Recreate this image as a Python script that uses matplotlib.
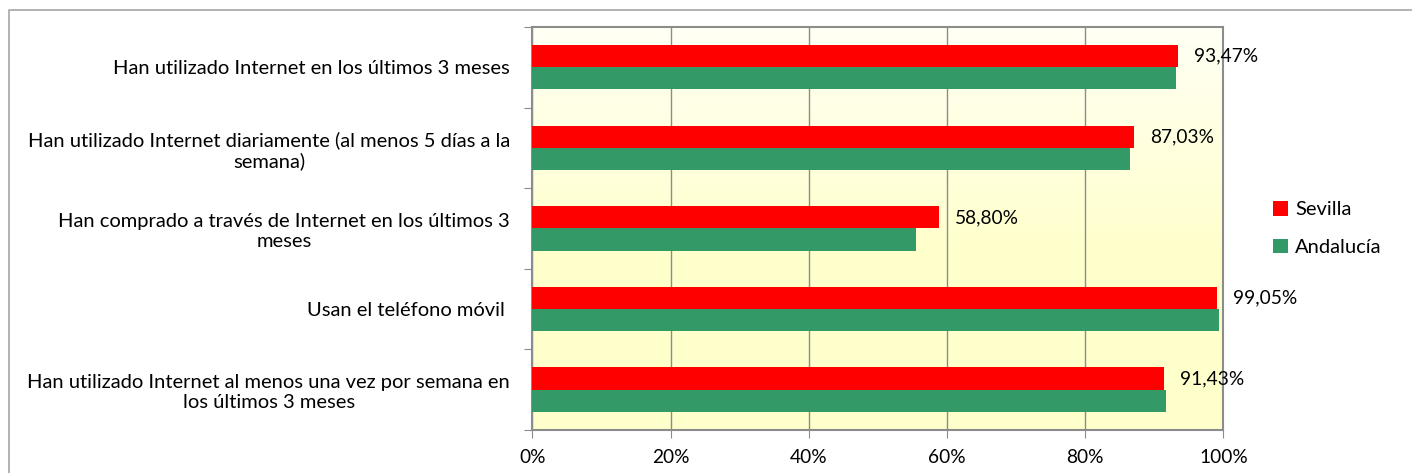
import numpy as np
import matplotlib.pyplot as plt
from matplotlib.lines import Line2D

plt.rcParams['font.family'] = ['Lato', 'DejaVu Sans']

categorias = [
    "Han utilizado Internet en los últimos 3 meses",
    "Han utilizado Internet diariamente (al menos 5 días a la\nsemana)",
    "Han comprado a través de Internet en los últimos 3\nmeses",
    "Usan el teléfono móvil ",
    "Han utilizado Internet al menos una vez por semana en\nlos últimos 3 meses",
]
sevilla = [93.47, 87.03, 58.80, 99.05, 91.43]
andalucia = [93.1, 86.5, 55.5, 99.3, 91.7]
etiquetas = ["93,47%", "87,03%", "58,80%", "99,05%", "91,43%"]
xticks = [0, 20, 40, 60, 80, 100]
xlabels = ["0%", "20%", "40%", "60%", "80%", "100%"]

rojo = '#ff0000'
verde = '#339966'
gris = '#8c8c8c'

fig = plt.figure(figsize=(14.12, 4.73), dpi=100)
ax = fig.add_axes([0.377, 0.091, 0.4895, 0.852])

# marco exterior del grafico (solo se ven el borde superior e izquierdo)
fig.lines.append(Line2D([0.0065, 0.0065, 1.0], [0.0, 0.978, 0.978], transform=fig.transFigure,
                        color='#a6a6a6', lw=1.2))

# fondo degradado
grad = np.linspace(0, 1, 200).reshape(-1, 1)
grad = np.clip(grad * 1.8, 0, 1)
c_top = np.array([1.0, 1.0, 0.96])
c_bot = np.array([1.0, 1.0, 0.80])
img = c_top + (c_bot - c_top) * grad[:, :, None]
ax.imshow(img, extent=[0, 1, 0, 1], transform=ax.transAxes, aspect='auto', zorder=0)

y = np.arange(len(categorias))
h = 0.275
ax.barh(y - h / 2, sevilla, height=h, color=rojo, label='Sevilla', zorder=3)
ax.barh(y + h / 2, andalucia, height=h, color=verde, label='Andalucía', zorder=3)

for i in range(len(sevilla)):
    ax.text(sevilla[i] + 2.3, y[i] - h / 2, etiquetas[i], va='center', ha='left',
            fontsize=13.8, color='black', zorder=4)

ax.set_xlim(0, 100)
ax.set_ylim(len(categorias) - 0.5, -0.5)
ax.set_xticks(xticks)
ax.set_xticklabels(xlabels, fontsize=13.8)
ax.set_yticks(np.arange(-0.5, len(categorias), 1))
ax.set_yticklabels([])
ax.set_yticks(y, minor=True)
ax.set_yticklabels(categorias, minor=True, fontsize=14.5, multialignment='center')
ax.tick_params(axis='y', which='minor', length=0, pad=16)
ax.tick_params(axis='y', which='major', length=6, color=gris, direction='out')
ax.tick_params(axis='x', length=6, color=gris, direction='out', pad=8)
ax.grid(axis='x', color=gris, lw=1.0, zorder=1)
for s in ax.spines.values():
    s.set_color(gris)
    s.set_linewidth(1.5)

leg = ax.legend(loc='center left', bbox_to_anchor=(1.045, 0.5), frameon=False,
                fontsize=14.5, handlelength=0.75, handleheight=0.75, handletextpad=0.35,
                labelspacing=1.0)

fig.savefig('out.png', dpi=100)
